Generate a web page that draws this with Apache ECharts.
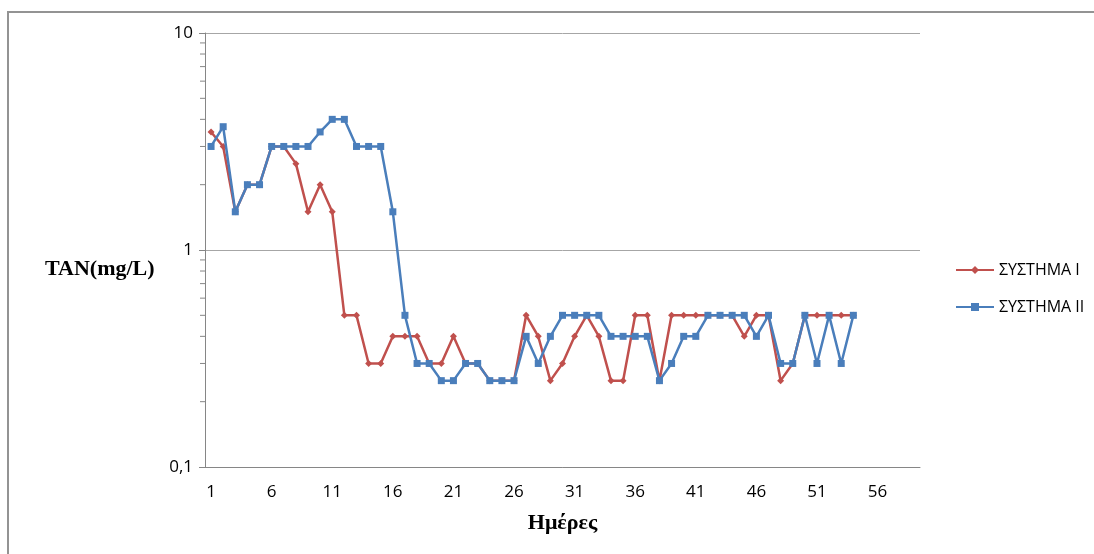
<!DOCTYPE html>
<html>
<head>
<meta charset="utf-8">
<script src="https://cdn.jsdelivr.net/npm/echarts@6/dist/echarts.min.js"></script>
<style>
html,body{margin:0;padding:0;background:#fff;}
#chart{width:1094px;height:554px;}
</style>
</head>
<body>
<div id="chart"></div>
<script>
// Categories: days 1..59
var days = [];
for (var d = 1; d <= 59; d++) days.push(String(d));

var seriesNames = ['ΣΥΣΤΗΜΑ Ι', 'ΣΥΣΤΗΜΑ ΙΙ'];

var systemI = [3.5, 3, 1.5, 2, 2, 3, 3, 2.5, 1.5, 2,
               1.5, 0.5, 0.5, 0.3, 0.3, 0.4, 0.4, 0.4, 0.3, 0.3,
               0.4, 0.3, 0.3, 0.25, 0.25, 0.25, 0.5, 0.4, 0.25, 0.3,
               0.4, 0.5, 0.4, 0.25, 0.25, 0.5, 0.5, 0.25, 0.5, 0.5,
               0.5, 0.5, 0.5, 0.5, 0.4, 0.5, 0.5, 0.25, 0.3, 0.5,
               0.5, 0.5, 0.5, 0.5];

var systemII = [3, 3.7, 1.5, 2, 2, 3, 3, 3, 3, 3.5,
                4, 4, 3, 3, 3, 1.5, 0.5, 0.3, 0.3, 0.25,
                0.25, 0.3, 0.3, 0.25, 0.25, 0.25, 0.4, 0.3, 0.4, 0.5,
                0.5, 0.5, 0.5, 0.4, 0.4, 0.4, 0.4, 0.25, 0.3, 0.4,
                0.4, 0.5, 0.5, 0.5, 0.5, 0.4, 0.5, 0.3, 0.3, 0.5,
                0.3, 0.5, 0.3, 0.5];

// Minor tick values on the logarithmic y axis
var minorTickValues = [0.2, 0.3, 0.4, 0.5, 0.6, 0.7, 0.8, 0.9, 2, 3, 4, 5, 6, 7, 8, 9];

var yTitle = 'TAN(mg/L)';
var xTitle = 'Ημέρες';

var chart = echarts.init(document.getElementById('chart'), null, {renderer: 'canvas'});

var labelFont = 'Open Sans';
var axisGray = '#868686';

var option = {
  backgroundColor: '#ffffff',
  animation: false,
  graphic: [
    {
      type: 'rect',
      shape: {x: 8, y: 12, width: 1200, height: 700},
      style: {fill: 'none', stroke: '#939393', lineWidth: 2},
      silent: true
    },
    {
      type: 'text',
      left: 45,
      top: 258,
      style: {
        text: yTitle,
        font: 'bold 22px "Liberation Serif"',
        fill: '#000'
      }
    }
  ],
  legend: {
    data: seriesNames,
    orient: 'vertical',
    left: 950,
    top: 257,
    itemGap: 21,
    itemWidth: 38,
    itemHeight: 10,
    textStyle: {fontFamily: labelFont, fontSize: 16, color: '#000'}
  },
  grid: {left: 205, right: 174, top: 33, bottom: 87, containLabel: false},
  xAxis: {
    type: 'category',
    data: days,
    boundaryGap: true,
    name: xTitle,
    nameLocation: 'middle',
    nameGap: 45,
    nameTextStyle: {fontFamily: 'Liberation Serif', fontWeight: 'bold', fontSize: 22, color: '#000'},
    axisLine: {lineStyle: {color: axisGray, width: 1}},
    axisTick: {show: false},
    axisLabel: {
      interval: 4,
      margin: 17,
      fontFamily: labelFont,
      fontSize: 17,
      color: '#000'
    },
    splitLine: {show: false}
  },
  yAxis: {
    type: 'log',
    logBase: 10,
    min: 0.1,
    max: 10,
    axisLine: {show: true, lineStyle: {color: axisGray, width: 1}},
    axisTick: {show: true, length: 6, lineStyle: {color: axisGray}},
    axisLabel: {
      margin: 12,
      fontFamily: labelFont,
      fontSize: 17,
      color: '#000',
      formatter: function (v) { return String(v).replace('.', ','); }
    },
    splitLine: {show: true, lineStyle: {color: '#a6a6a6', width: 1}}
  },
  series: [
    {
      name: seriesNames[0],
      type: 'line',
      data: systemI,
      color: '#C0504D',
      lineStyle: {width: 2.5, color: '#C0504D'},
      symbol: 'diamond',
      symbolSize: 7,
      itemStyle: {color: '#C0504D', borderWidth: 0},
      z: 3
    },
    {
      name: seriesNames[1],
      type: 'line',
      data: systemII,
      color: '#4A7EBB',
      lineStyle: {width: 2.5, color: '#4A7EBB'},
      symbol: 'rect',
      symbolSize: 7,
      itemStyle: {color: '#4A7EBB', borderWidth: 0},
      z: 4
    },
    {
      name: 'minorTicks',
      type: 'custom',
      silent: true,
      data: minorTickValues.map(function (v) { return [0, v]; }),
      renderItem: function (params, api) {
        var p = api.coord([0, api.value(1)]);
        var x0 = params.coordSys.x;
        return {
          type: 'line',
          shape: {x1: x0 - 5, y1: p[1], x2: x0, y2: p[1]},
          style: {stroke: axisGray, lineWidth: 1}
        };
      },
      z: 1
    }
  ]
};

chart.setOption(option);
</script>
</body>
</html>
